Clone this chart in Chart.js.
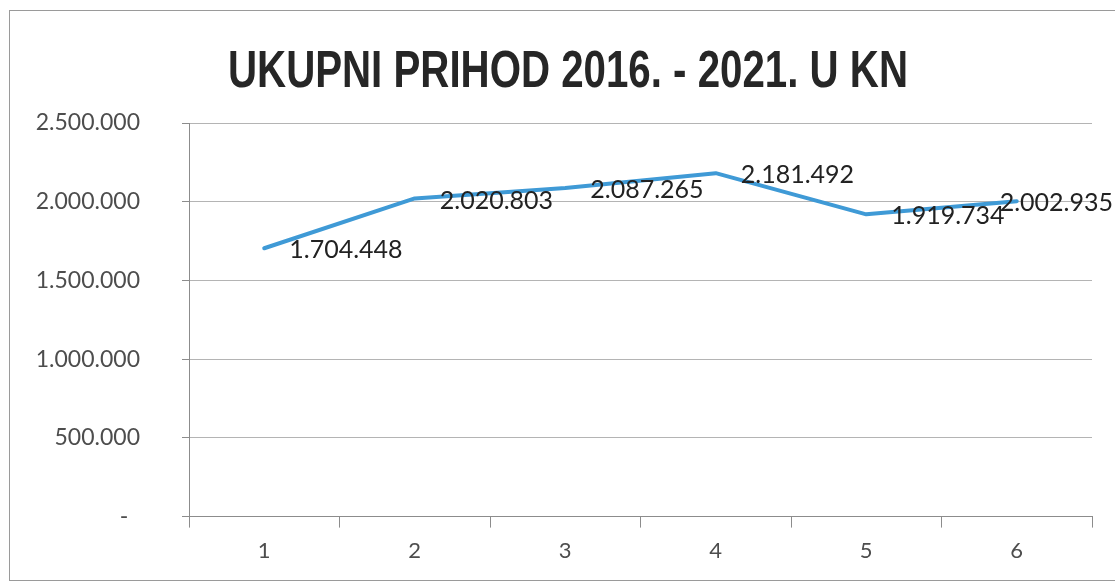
<!DOCTYPE html>
<html>
<head>
<meta charset="utf-8">
<script src="https://cdn.jsdelivr.net/npm/chart.js@4/dist/chart.umd.min.js"></script>
<style>
  html, body { margin: 0; padding: 0; background: #fff; }
  #wrap { position: relative; width: 1115px; height: 583px; }
</style>
</head>
<body>
<div id="wrap"><canvas id="prihodChart"></canvas></div>
<script>
const chartTitle = 'UKUPNI PRIHOD 2016. - 2021. U KN';
const categories = ['1', '2', '3', '4', '5', '6'];
const prihod = [1704448, 2020803, 2087265, 2181492, 1919734, 2002935];
const yTicks = [0, 500000, 1000000, 1500000, 2000000, 2500000];

// Croatian thousands separator, zero shown as a dash like Excel accounting format
function formatKn(v) {
  if (v === 0) return '-  ';
  return v.toString().replace(/\B(?=(\d{3})+(?!\d))/g, '.');
}

const frameBorder = {
  id: 'frameBorder',
  beforeDraw(chart) {
    const { ctx } = chart;
    ctx.save();
    ctx.fillStyle = '#fff';
    ctx.fillRect(0, 0, chart.width, chart.height);
    ctx.strokeStyle = '#9a9a9a';
    ctx.lineWidth = 1;
    ctx.strokeRect(9.5, 10.5, 1110, 570);
    ctx.restore();
  },
};

// narrow bold title (no condensed font installed, so squeeze it horizontally)
const narrowTitle = {
  id: 'narrowTitle',
  afterDraw(chart) {
    const { ctx } = chart;
    ctx.save();
    ctx.font = 'bold 52px "Liberation Sans", Arial, sans-serif';
    ctx.fillStyle = '#262626';
    ctx.textAlign = 'center';
    ctx.textBaseline = 'alphabetic';
    const w = ctx.measureText(chartTitle).width;
    const sx = 680 / w;
    ctx.translate(568, 87);
    ctx.scale(sx, 1);
    ctx.fillText(chartTitle, 0, 0);
    ctx.restore();
  },
};

const valueLabels = {
  id: 'valueLabels',
  afterDatasetsDraw(chart) {
    const { ctx } = chart;
    const meta = chart.getDatasetMeta(0);
    ctx.save();
    ctx.font = '25px Lato, "Open Sans", sans-serif';
    ctx.fillStyle = '#222';
    ctx.textAlign = 'left';
    ctx.textBaseline = 'middle';
    meta.data.forEach((pt, i) => {
      const text = formatKn(prihod[i]);
      const w = ctx.measureText(text).width;
      let x = pt.x + 25;
      if (x + w > chart.width - 2) x = chart.width - 2 - w;
      ctx.fillText(text, x, pt.y + 2);
    });
    ctx.restore();
  },
};

new Chart(document.getElementById('prihodChart'), {
  type: 'line',
  data: {
    labels: categories,
    datasets: [{
      label: 'Ukupni prihod',
      data: prihod,
      borderColor: '#3f9ad6',
      backgroundColor: '#3f9ad6',
      borderWidth: 4,
      pointRadius: 0,
      tension: 0,
      borderCapStyle: 'round',
      borderJoinStyle: 'round',
    }],
  },
  options: {
    responsive: true,
    maintainAspectRatio: false,
    animation: false,
    layout: {
      padding: { left: 0, right: 23, top: 123, bottom: 9 },
    },
    plugins: {
      legend: { display: false },
      tooltip: { enabled: false },
      title: { display: false },
    },
    scales: {
      x: {
        offset: true,
        grid: {
          offset: true,
          drawOnChartArea: false,
          drawTicks: true,
          tickLength: 11,
          color: '#8c8c8c',
        },
        border: { color: '#8c8c8c', width: 1 },
        ticks: {
          color: '#4d4d4d',
          padding: 10,
          font: { family: 'Lato, "Open Sans", sans-serif', size: 22 },
        },
      },
      y: {
        min: 0,
        max: 2500000,
        afterFit(scale) { scale.width = 189; },
        afterBuildTicks(scale) { scale.ticks = yTicks.map((v) => ({ value: v })); },
        grid: {
          color: '#b4b4b4',
          tickLength: 7,
          tickColor: '#8c8c8c',
        },
        border: { color: '#8c8c8c', width: 1 },
        ticks: {
          color: '#4d4d4d',
          padding: 42,
          font: { family: 'Lato, "Open Sans", sans-serif', size: 23 },
          callback: (v) => formatKn(v),
        },
      },
    },
  },
  plugins: [frameBorder, narrowTitle, valueLabels],
});
</script>
</body>
</html>
